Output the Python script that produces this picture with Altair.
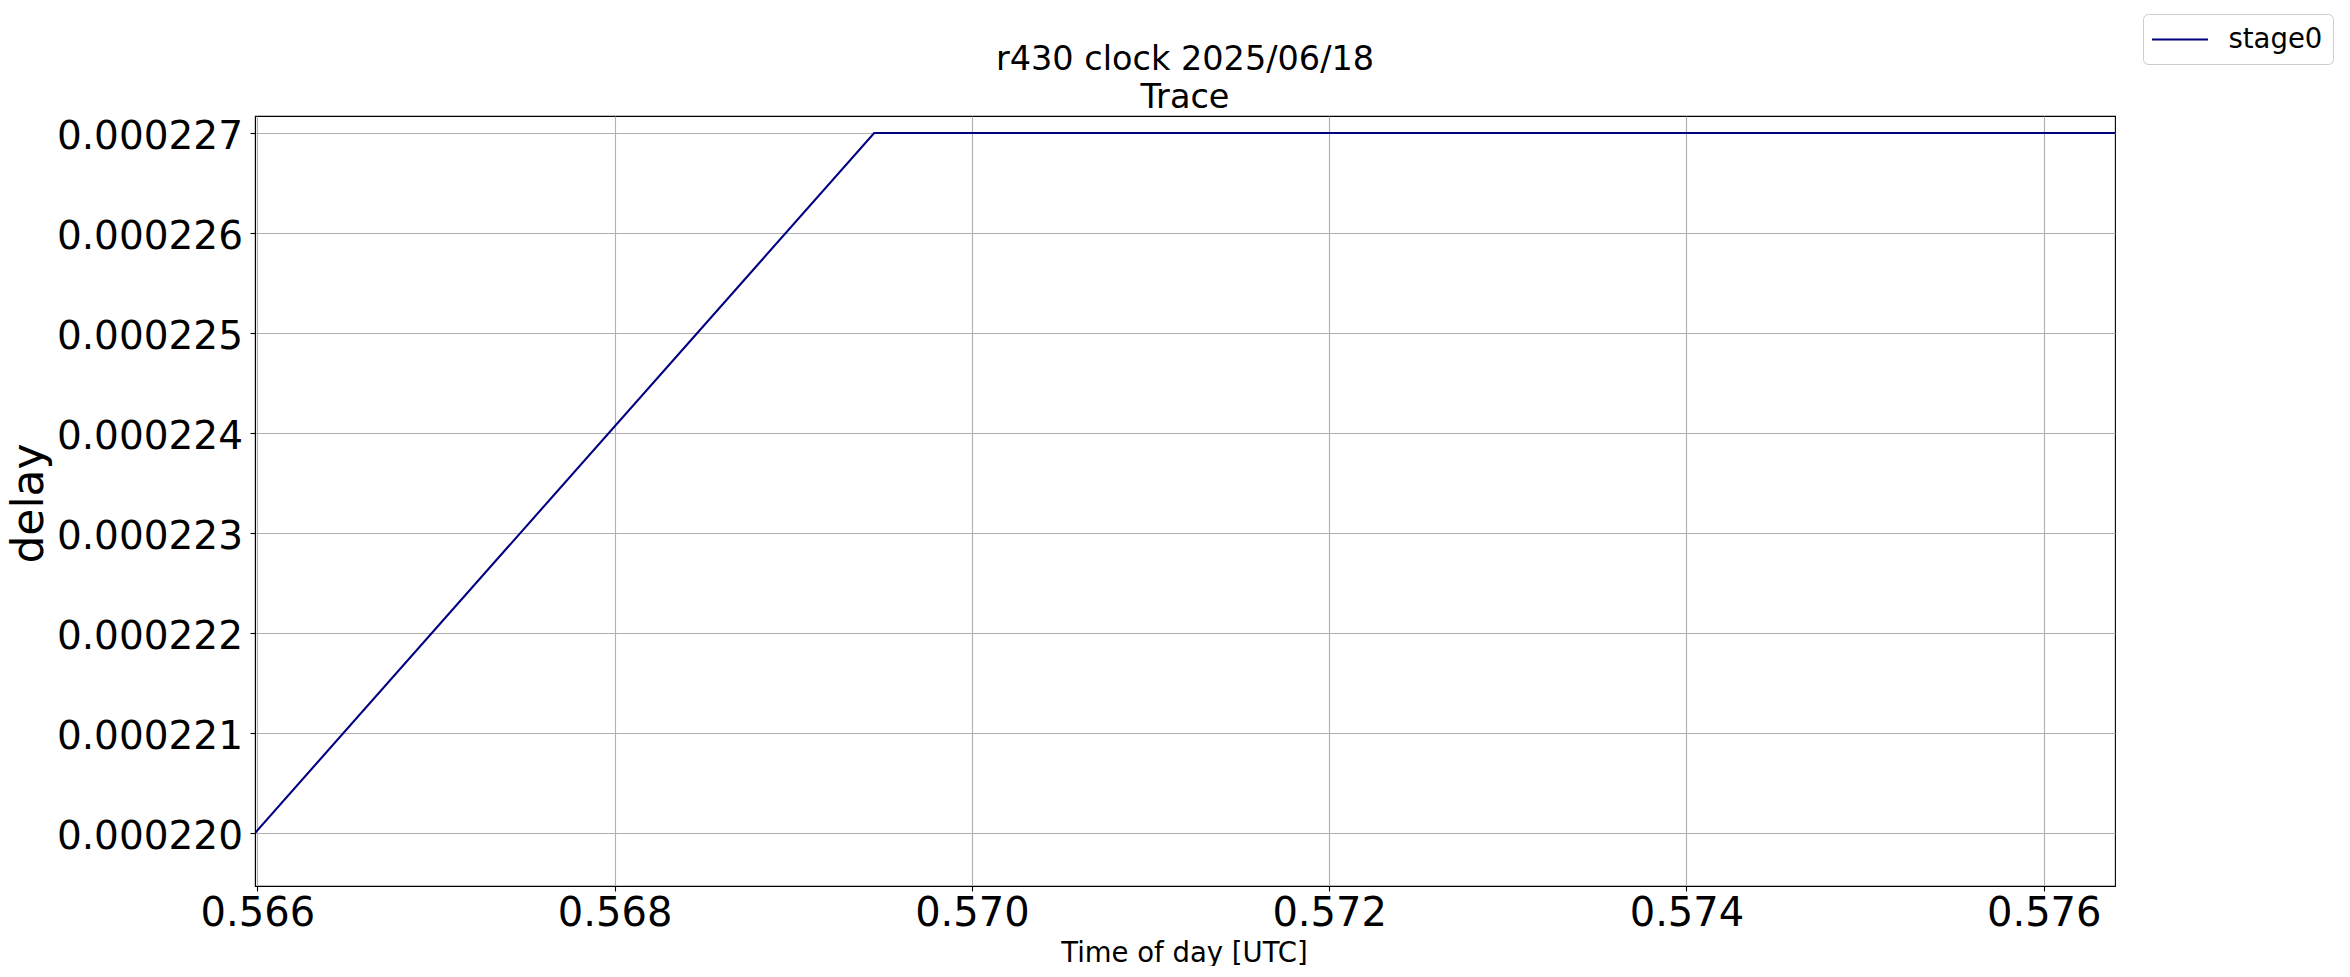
import altair as alt
import pandas as pd

# Data
time_of_day = [0.565987, 0.569453, 0.576399]
delay = [0.000220, 0.000227, 0.000227]
series = ["stage0", "stage0", "stage0"]

x_ticks = [0.566, 0.568, 0.570, 0.572, 0.574, 0.576]
y_ticks = [0.000220, 0.000221, 0.000222, 0.000223, 0.000224, 0.000225, 0.000226, 0.000227]
x_domain = [0.565987, 0.576399]
y_domain = [0.00021947, 0.00022717]

df = pd.DataFrame({"t": time_of_day, "delay": delay, "series": series})

FONT = "DejaVu Sans"

chart = alt.Chart(df).mark_line(strokeWidth=2.1, clip=True).encode(
    x=alt.X(
        "t:Q",
        scale=alt.Scale(domain=x_domain, nice=False, zero=False),
        axis=alt.Axis(
            values=x_ticks, format=".3f", title="Time of day [UTC]",
            labelFontSize=40, labelBaseline="alphabetic", labelPadding=34,
            labelFlush=False, labelOverlap=False, labelLimit=400,
            titleFontSize=27.5, titleFontWeight="normal", titleX=929, titleY=75,
            titleBaseline="alphabetic", titleAlign="center",
        ),
    ),
    y=alt.Y(
        "delay:Q",
        scale=alt.Scale(domain=y_domain, nice=False, zero=False),
        axis=alt.Axis(
            values=y_ticks, format=".6f", title="delay",
            labelFontSize=39, labelBaseline="alphabetic", labelOffset=15, labelPadding=7.5,
            labelFlush=False, labelOverlap=False, labelLimit=400,
            titleFontSize=44, titleFontWeight="normal", titleAngle=270,
            titleX=-213, titleY=387, titleAlign="center", titleBaseline="alphabetic",
        ),
    ),
    color=alt.Color(
        "series:N",
        scale=alt.Scale(range=["#000080"]),
        legend=alt.Legend(
            title=None, orient="none", legendX=1888, legendY=-102,
            symbolType="M-2,0H2", symbolSize=784, symbolStrokeWidth=2,
            symbolOffset=11.5, labelOffset=33.5,
            labelExpr="datum.label + ' '",
            labelFontSize=27.5, labelFont=FONT, labelColor="black",
            padding=10.5, strokeColor="#cccccc", cornerRadius=5, fillColor="white",
        ),
    ),
).properties(
    width=1860,
    height=770,
    title=alt.Title(
        text=["r430 clock 2025/06/18", "Trace"],
        fontSize=33.5, fontWeight="normal", font=FONT, color="black",
        lineHeight=38.3, anchor="middle", frame="group", baseline="bottom",
        offset=1, dy=136,
    ),
    autosize=alt.AutoSizeParams(type="none"),
    padding={"left": 247, "top": 108, "right": 225, "bottom": 80},
).configure_view(
    stroke="black", strokeWidth=1.1
).configure_axis(
    domainColor="black", domainWidth=1.1,
    gridColor="#b0b0b0", gridWidth=1.1,
    tickColor="black", tickWidth=1.1, tickSize=5,
    labelColor="black", titleColor="black",
    labelFont=FONT, titleFont=FONT,
)

chart.save("out.html", embed_options={"renderer": "svg", "actions": False})
